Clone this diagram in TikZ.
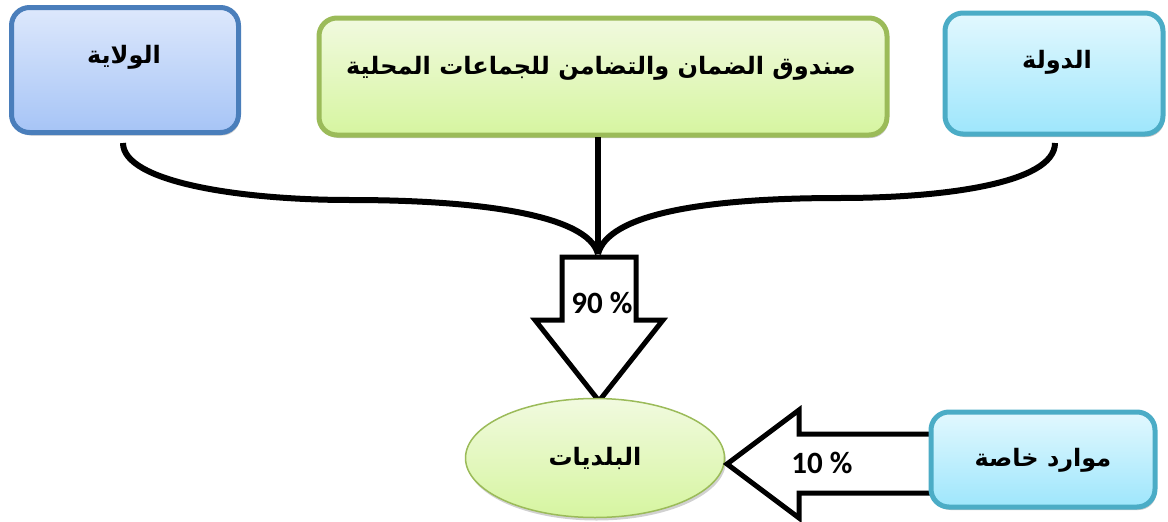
\documentclass[tikz,border=0pt]{standalone}
\usepackage{fontspec}
\newfontfamily\arabicfont[Script=Arabic]{DejaVu Sans}
\newfontfamily\numfont{Carlito}
\TeXXeTstate=1
\usetikzlibrary{shadows}
\definecolor{blueBorder}{HTML}{4A7EBB}
\definecolor{blueTop}{HTML}{DDE8FC}
\definecolor{blueBot}{HTML}{A6C4F6}
\definecolor{greenBorder}{HTML}{9BBB59}
\definecolor{greenTop}{HTML}{F1FADF}
\definecolor{greenBot}{HTML}{D6F5A0}
\definecolor{cyanBorder}{HTML}{4BACC6}
\definecolor{cyanTop}{HTML}{E2F8FE}
\definecolor{cyanBot}{HTML}{9EE6FC}
\begin{document}
\begin{tikzpicture}[x=1pt,y=-1pt,
  box/.style={rectangle, rounded corners=18pt, line width=5pt, inner sep=0pt,
    drop shadow={shadow xshift=1.5pt, shadow yshift=-3pt, opacity=0.35, fill=black!60}},
  bluebox/.style={box, draw=blueBorder, top color=blueTop, bottom color=blueBot},
  greenbox/.style={box, draw=greenBorder, top color=greenTop, bottom color=greenBot},
  cyanbox/.style={box, draw=cyanBorder, top color=cyanTop, bottom color=cyanBot},
  artxt/.style={font=\arabicfont\bfseries\fontsize{24}{28}\selectfont, inner sep=0pt},
  numtxt/.style={font=\numfont\bfseries\fontsize{31}{35}\selectfont, inner sep=0pt},
  conn/.style={line width=6pt, black},
  bigarrow/.style={line width=5pt, black, fill=white, line join=miter, miter limit=10}
]
\useasboundingbox (0,0) rectangle (1168,522);

% boxes
\node[bluebox, minimum width=227pt, minimum height=125pt] (wilaya) at (125,70) {};
\node[greenbox, minimum width=568pt, minimum height=117pt] (fund) at (603,76.5) {};
\node[cyanbox, minimum width=218pt, minimum height=121pt] (state) at (1054,73.5) {};

\node[artxt] (twilaya) at (124,57) {\beginR الولاية\endR};
\node[artxt] (tfund) at (601,68) {\beginR صندوق الضمان والتضامن للجماعات المحلية\endR};
\node[artxt] (tstate) at (1057,62) {\beginR الدولة\endR};

% connectors
\coordinate (wstart) at (123,143);
\coordinate (sstart) at (1055,143);
\coordinate (fstart) at (598,137);
\coordinate (join) at (598,254);
\draw[conn] (wstart) .. controls (123,182) and (240,200) .. (350,200)
   .. controls (480,200) and (588,215) .. (join);
\draw[conn] (sstart) .. controls (1055,184) and (940,198) .. (840,198)
   .. controls (700,198) and (608,215) .. (join);
\draw[conn] (fstart) -- (join);

% down arrow (90 %)
\draw[bigarrow] (562,257) -- (636,257) -- (636,320) -- (663,320) -- (599,401)
   -- (535,320) -- (562,320) -- cycle;
\node[numtxt] (p90) at (602,303) {90 \%};

% ellipse
\draw[greenBorder, line width=1.5pt, top color=greenTop, bottom color=greenBot,
   drop shadow={shadow xshift=1.5pt, shadow yshift=-3pt, opacity=0.3, fill=black!60}]
   (595,458) ellipse [x radius=129.5, y radius=59.5];
\coordinate (mun) at (595,458);
\node[artxt] (tmun) at (mun) {\beginR البلديات\endR};

% left arrow (10 %)
\draw[bigarrow] (935,434) -- (799,434) -- (799,410) -- (727,464) -- (799,518)
   -- (799,493) -- (935,493);
\node[numtxt] (p10) at (822,463) {10 \%};

% own resources box
\node[cyanbox, minimum width=224pt, minimum height=95pt] (own) at (1043,459.5) {};
\node[artxt] (town) at (1043,460) {\beginR موارد خاصة\endR};
\end{tikzpicture}
\end{document}
